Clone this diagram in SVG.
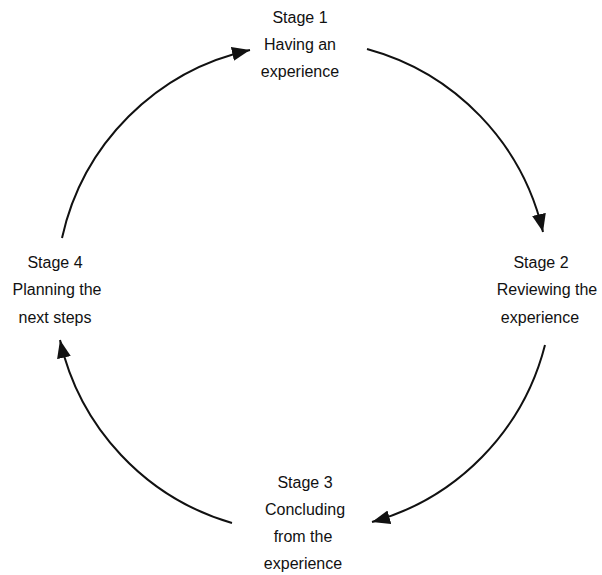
<svg xmlns="http://www.w3.org/2000/svg" width="602" height="575" viewBox="0 0 602 575">
<style>
.lbl{font-family:"Liberation Sans",Arial,sans-serif;font-size:16px;fill:#111;text-anchor:middle}
.arc{fill:none;stroke:#111;stroke-width:2;marker-end:url(#ah)}
</style>
<defs>
<marker id="ah" markerUnits="userSpaceOnUse" markerWidth="20" markerHeight="16" refX="18" refY="7" orient="auto">
<path d="M0,0 L18,7 L0,14 z" fill="#111"/>
</marker>
</defs>
<rect width="602" height="575" fill="#fff"/>
<g id="connectors">
<path class="arc" d="M 367 49 A 247 247 0 0 1 543 232"/>
<path class="arc" d="M 545 345 A 247 247 0 0 1 372 522"/>
<path class="arc" d="M 232 523 A 247 247 0 0 1 60 340"/>
<path class="arc" d="M 62 238 A 247 247 0 0 1 250 50"/>
</g>
<g id="stage1">
<text class="lbl" x="300" y="23">Stage 1</text>
<text class="lbl" x="300" y="50">Having an</text>
<text class="lbl" x="300" y="77">experience</text>
</g>
<g id="stage2">
<text class="lbl" x="541" y="268">Stage 2</text>
<text class="lbl" x="547" y="295">Reviewing the</text>
<text class="lbl" x="540" y="323">experience</text>
</g>
<g id="stage3">
<text class="lbl" x="305" y="488">Stage 3</text>
<text class="lbl" x="305" y="515">Concluding</text>
<text class="lbl" x="303" y="542">from the</text>
<text class="lbl" x="303" y="569">experience</text>
</g>
<g id="stage4">
<text class="lbl" x="55" y="268">Stage 4</text>
<text class="lbl" x="57" y="295">Planning the</text>
<text class="lbl" x="55" y="323">next steps</text>
</g>
</svg>
